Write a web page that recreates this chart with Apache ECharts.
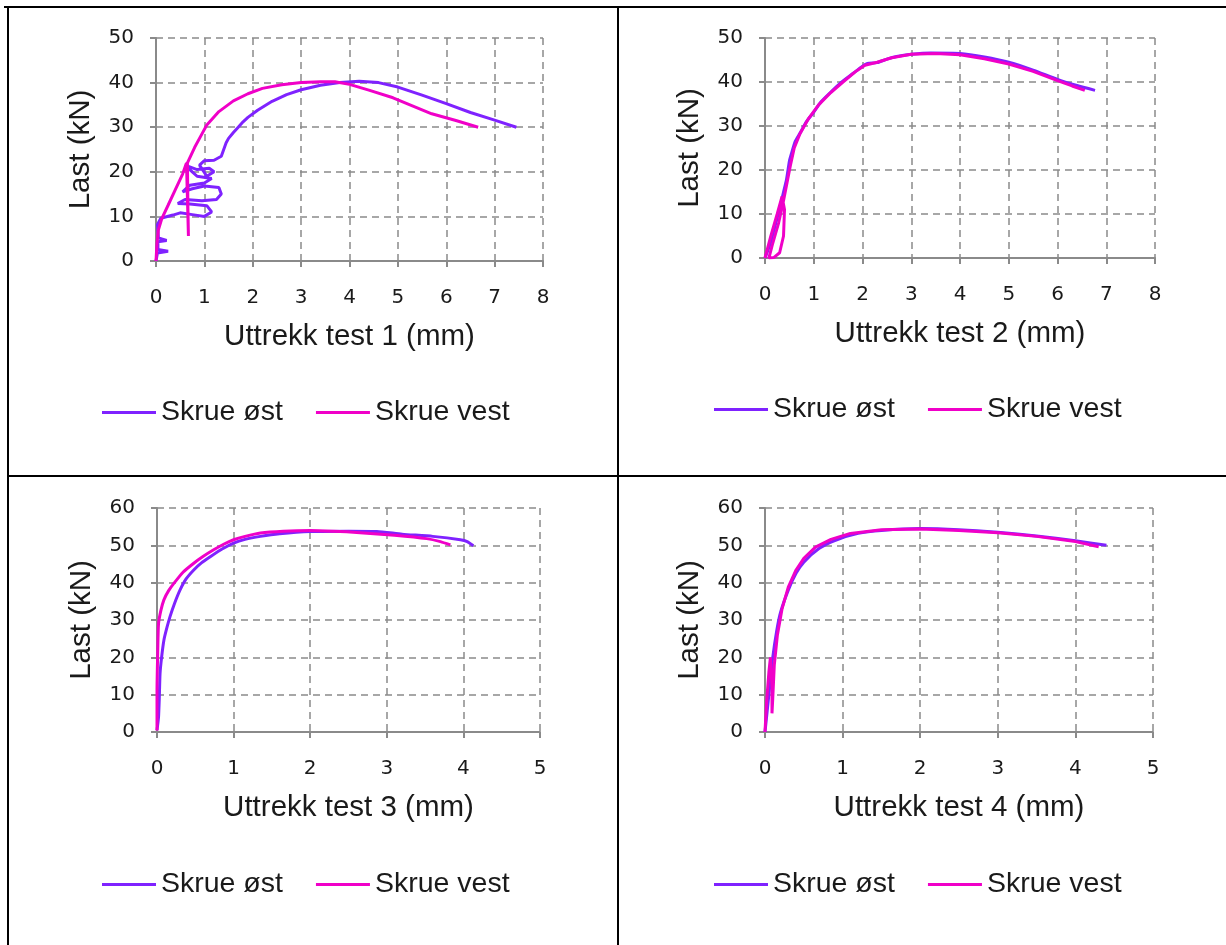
<!DOCTYPE html>
<html>
<head>
<meta charset="utf-8">
<script src="https://cdn.jsdelivr.net/npm/echarts@6/dist/echarts.min.js"></script>
<style>
    html, body { margin: 0; padding: 0; background: #fff; }
    #chart { width: 1226px; height: 945px; }
</style>
</head>
<body>
<div id="chart"></div>
<script>
// Uttrekk (mm) / Last (kN) per test, skrue øst og skrue vest
var test1Ost = [[0,0],[0.03,1.8],[0.25,2.2],[0.04,2.6],[0.04,4.3],[0.22,4.6],[0.05,5.2],[0.03,8.2],[0.1,9.6],[0.35,10.3],[0.5,10.8],[0.75,10.4],[1.0,10.0],[1.15,11],[1.05,12.4],[0.7,12.8],[0.45,12.9],[0.6,13.8],[0.95,13.5],[1.25,13.8],[1.35,15],[1.3,16.5],[1.0,16.8],[0.75,16.2],[0.55,15.5],[0.7,17],[1.0,17.5],[1.15,18.5],[0.85,19],[0.75,20],[0.6,21.5],[0.85,20.5],[1.1,20.8],[1.2,20],[1.05,19],[0.9,21.5],[1.0,22.5],[1.2,22.6],[1.35,23.5],[1.4,25],[1.45,26.5],[1.5,27.5],[1.6,28.8],[1.7,30],[1.8,31.2],[1.9,32.2],[2.1,33.8],[2.4,35.8],[2.7,37.3],[3.0,38.4],[3.4,39.4],[3.8,40],[4.2,40.3],[4.6,40.0],[5.0,39.0],[5.5,37.2],[6.0,35.3],[6.5,33.3],[7.0,31.6],[7.45,30]];
var test1Vest = [[0,0],[0.02,4],[0.05,7],[0.12,9.5],[0.25,12.5],[0.4,16],[0.55,19.5],[0.63,22],[0.65,14],[0.67,5.6],[0.66,12],[0.65,22],[0.8,25.5],[0.95,28.5],[1.05,30.5],[1.3,33.5],[1.6,35.9],[1.9,37.5],[2.2,38.7],[2.6,39.5],[3.0,40],[3.4,40.2],[3.7,40.2],[4.0,39.6],[4.4,38.3],[4.9,36.6],[5.3,34.8],[5.7,33],[6.2,31.5],[6.66,30]];
var test2Ost = [[0,0],[0.1,3],[0.2,7],[0.31,11.7],[0.38,15],[0.44,17.8],[0.5,22],[0.55,24],[0.62,26.5],[0.72,28.4],[0.85,31],[0.99,33],[1.15,35.5],[1.33,37.5],[1.55,39.8],[1.81,42],[2.0,43.6],[2.1,44.2],[2.3,44.4],[2.5,45.2],[2.7,45.8],[3.0,46.3],[3.4,46.6],[4.0,46.5],[4.5,45.7],[5.0,44.5],[5.5,42.7],[6.0,40.6],[6.4,39.2],[6.77,38.1]];
var test2Vest = [[0,0],[0.12,5],[0.25,10],[0.35,14],[0.4,11],[0.38,5],[0.3,1.2],[0.18,0.1],[0.08,0],[0.15,3],[0.28,8],[0.38,13],[0.45,17],[0.52,21],[0.6,25],[0.72,28.3],[0.9,31.8],[1.1,34.8],[1.35,37.6],[1.6,40],[1.85,42.3],[2.05,43.8],[2.3,44.5],[2.6,45.5],[3.0,46.3],[3.5,46.5],[4.0,46.2],[4.5,45.3],[5.0,44.1],[5.5,42.4],[6.0,40.3],[6.3,39.1],[6.56,38.1]];
var test3Ost = [[0,0.5],[0.02,4],[0.03,9],[0.04,15.7],[0.06,20],[0.09,24.6],[0.13,28],[0.17,30.9],[0.23,34.5],[0.3,38],[0.38,41],[0.48,43.4],[0.58,45.3],[0.7,47],[0.85,49],[1.0,50.6],[1.15,51.6],[1.35,52.4],[1.6,53.1],[2.0,53.7],[2.5,53.8],[2.87,53.7],[3.2,53],[3.6,52.4],[3.96,51.5],[4.05,51],[4.13,49.9]];
var test3Vest = [[0,0.4],[0,11],[0.01,22],[0.02,29],[0.05,32.5],[0.09,35.4],[0.15,37.8],[0.22,39.8],[0.34,42.8],[0.48,45.2],[0.6,47],[0.74,48.8],[0.87,50.3],[1.0,51.5],[1.15,52.4],[1.35,53.3],[1.65,53.8],[2.0,54],[2.3,53.8],[2.65,53.4],[3.1,52.7],[3.52,51.8],[3.7,51],[3.83,50.1]];
var test4Ost = [[0,0],[0.05,10],[0.1,20],[0.15,27],[0.2,32],[0.3,38],[0.4,42.5],[0.5,45.5],[0.7,49.2],[0.9,51.3],[1.2,53.2],[1.5,54],[2.0,54.5],[2.5,54.2],[3.0,53.5],[3.5,52.5],[4.0,51.2],[4.4,50]];
var test4Vest = [[0,0],[0.02,8],[0.05,16],[0.07,20],[0.09,12],[0.09,5],[0.1,9],[0.12,18],[0.16,26],[0.22,33],[0.3,38.8],[0.4,43.4],[0.5,46.5],[0.65,49.5],[0.85,51.6],[1.1,53.2],[1.5,54.2],[2.0,54.4],[2.5,54],[3.0,53.4],[3.5,52.4],[4.0,51],[4.3,49.6]];

var seriesNames = ['Skrue øst', 'Skrue vest'];
var xTitles = ['Uttrekk test 1 (mm)', 'Uttrekk test 2 (mm)', 'Uttrekk test 3 (mm)', 'Uttrekk test 4 (mm)'];
var yTitle = 'Last (kN)';
var xMax = [8, 8, 5, 5];
var yMax = [50, 50, 60, 60];

var colorOst = '#7f22ff';
var colorVest = '#f000c8';

// plassering av de fire diagrammene
var grids = [
    {left: 156, top: 38, width: 387, height: 223},
    {left: 765, top: 38, width: 390, height: 220},
    {left: 157, top: 508, width: 383, height: 224},
    {left: 765, top: 508, width: 388, height: 224}
];
var legendPos = [
    {left: 97, top: 393},
    {left: 709, top: 390},
    {left: 97, top: 865},
    {left: 709, top: 865}
];

var data = [[test1Ost, test1Vest], [test2Ost, test2Vest], [test3Ost, test3Vest], [test4Ost, test4Vest]];
var smoothFlags = [[false, false], [0.2, false], [0.2, 0.2], [0.2, false]];

var gridCfg = [], xAxes = [], yAxes = [], series = [], legends = [];
var axisColor = '#8a8a8a';
var tickFont = {fontFamily: 'DejaVu Sans', fontSize: 20, color: '#1a1a1a'};
var titleFont = {fontFamily: 'Liberation Sans', fontSize: 29.5, color: '#1a1a1a'};

for (var i = 0; i < 4; i++) {
    gridCfg.push(grids[i]);
    xAxes.push({
        type: 'value', gridIndex: i, min: 0, max: xMax[i], interval: 1,
        name: xTitles[i], nameLocation: 'middle', nameGap: 61,
        nameTextStyle: titleFont,
        axisLine: {show: true, onZero: false, lineStyle: {color: axisColor, width: 2}},
        axisTick: {show: true, length: 6, lineStyle: {color: axisColor, width: 2}},
        axisLabel: {margin: 27, fontFamily: tickFont.fontFamily, fontSize: tickFont.fontSize, color: tickFont.color},
        splitLine: {show: true, lineStyle: {color: axisColor, width: 1.5, type: [7, 5]}}
    });
    yAxes.push({
        type: 'value', gridIndex: i, min: 0, max: yMax[i], interval: 10,
        name: yTitle, nameLocation: 'middle', nameGap: 60, nameRotate: 90,
        nameTextStyle: titleFont,
        axisLine: {show: true, onZero: false, lineStyle: {color: axisColor, width: 2}},
        axisTick: {show: true, length: 6, lineStyle: {color: axisColor, width: 2}},
        axisLabel: {margin: 22, fontFamily: tickFont.fontFamily, fontSize: tickFont.fontSize, color: tickFont.color},
        splitLine: {show: true, lineStyle: {color: axisColor, width: 1.5, type: [7, 5]}}
    });
    for (var s = 0; s < 2; s++) {
        series.push({
            name: seriesNames[s], type: 'line', xAxisIndex: i, yAxisIndex: i,
            data: data[i][s], showSymbol: false, smooth: smoothFlags[i][s],
            lineStyle: {width: 3, color: s === 0 ? colorOst : colorVest},
            itemStyle: {color: s === 0 ? colorOst : colorVest},
            animation: false, z: s === 0 ? 2 : 3
        });
    }
    legends.push({
        left: legendPos[i].left, top: legendPos[i].top, orient: 'horizontal',
        data: seriesNames, icon: 'rect', itemWidth: 54, itemHeight: 3, itemGap: 33,
        textStyle: {fontFamily: 'Liberation Sans', fontSize: 28.5, color: '#1a1a1a', padding: [0, 0, 0, 0]}
    });
}

// tabellrammer
var border = {stroke: '#000', lineWidth: 2};
var graphics = [
    {type: 'line', shape: {x1: 4, y1: 7, x2: 1226, y2: 7}, style: border},
    {type: 'line', shape: {x1: 8, y1: 7, x2: 8, y2: 945}, style: border},
    {type: 'line', shape: {x1: 618, y1: 7, x2: 618, y2: 945}, style: border},
    {type: 'line', shape: {x1: 8, y1: 476, x2: 1226, y2: 476}, style: border}
];

var chart = echarts.init(document.getElementById('chart'), null, {renderer: 'canvas'});
chart.setOption({
    backgroundColor: '#fff',
    animation: false,
    grid: gridCfg,
    xAxis: xAxes,
    yAxis: yAxes,
    legend: legends,
    series: series,
    graphic: graphics
});
</script>
</body>
</html>
